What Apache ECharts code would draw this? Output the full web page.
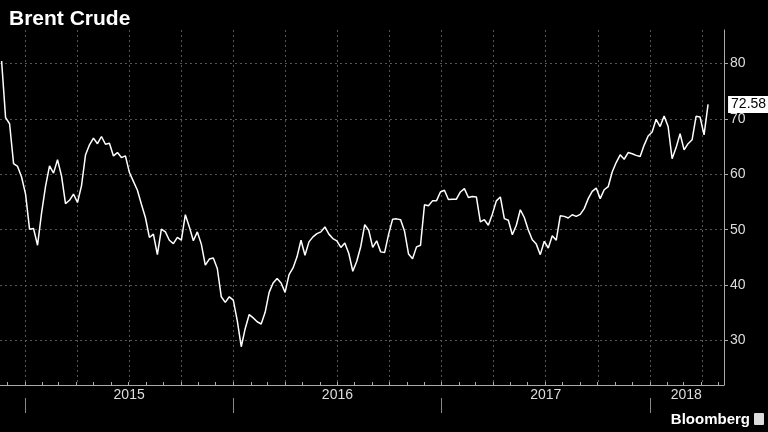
<!DOCTYPE html>
<html><head><meta charset="utf-8">
<script src="https://cdn.jsdelivr.net/npm/echarts@6/dist/echarts.min.js"></script>
<style>html,body{margin:0;padding:0;background:#000}#c{width:768px;height:432px}</style>
</head><body><div id="c"></div>
<script>
// Weekly Brent closes (USD/bbl), starting Fri 2014-11-21
const startDate = '2014-11-21';
const v2014 = [80.4,70.2,69.1,61.9,61.4,59.5];
const v2015 = [56.4,50.1,50.2,47.2,52.99, 57.8,61.5,60.2,62.6, 59.7,54.7,55.3,56.4, 54.9,57.9,63.45,65.3,
  66.5,65.5,66.8,65.4,65.6, 63.3,63.9,63.0,63.3, 60.3,58.7,57.1,54.6,52.2, 48.6,49.2,45.5,50.1,
  49.6,48.1,47.5,48.6, 48.1,52.7,50.5,48.0,49.6, 47.4,43.6,44.7,44.9, 43.0,37.9,36.9,37.9];
const v2016 = [37.3,33.6,28.9,32.2,34.7, 34.1,33.4,33.0,35.1, 38.7,40.4,41.2,40.4, 38.7,41.9,43.1,45.1,48.1,
  45.4,47.8,48.7,49.3, 49.6,50.5,49.2,48.4, 48.0,46.8,47.6,45.7,42.5, 44.3,46.97,50.9,49.9,
  46.8,48.0,46.0,45.9,49.2, 51.9,51.95,51.8,49.7, 45.6,44.75,46.9,47.2, 54.5,54.3,55.2,55.2,56.8];
const v2017 = [57.1,55.45,55.5,55.5, 56.8,57.4,55.8,56.0, 55.9,51.4,51.8,50.8,52.8, 55.2,55.9,52.0,51.7,
  49.1,50.8,53.6,52.2, 49.95,48.2,47.4,45.5,47.9, 46.7,48.9,48.1,52.5, 52.4,52.1,52.7,52.4,
  52.75,53.8,55.6,56.9,57.5, 55.6,57.2,57.75,60.4, 62.1,63.5,62.7,63.9, 63.7,63.4,63.2,65.25,66.9];
const v2018 = [67.6,69.9,68.6,70.5, 68.6,62.8,64.8,67.3, 64.4,65.5,66.2,70.45,70.3, 67.1,72.58];
const years = [2015,2016,2017,2018];
const yearLabels = ['2015','2016','2017','2018'];
const yTicks = [30,40,50,60,70,80];

const values = [].concat(v2014,v2015,v2016,v2017,v2018);
const t0 = Date.parse(startDate+'T00:00:00Z');
function decYear(ms){const d=new Date(ms);const y=d.getUTCFullYear();const a=Date.UTC(y,0,1),b=Date.UTC(y+1,0,1);return y+(ms-a)/(b-a);}
const data = values.map((v,i)=>[decYear(t0+i*7*86400000), v]);

const allYears=[2014].concat(years);
const quarters=[], months=[];
allYears.forEach(y=>{for(let m=0;m<12;m++){months.push(decYear(Date.UTC(y,m,1)));if(m%3===0)quarters.push(y+m/12);}});
const xmin = 2014.88, xmax = 2018.356;
const inR=v=>v>xmin&&v<xmax;

const font = '"Liberation Sans Narrow","Liberation Sans",Arial,sans-serif';
const chart = echarts.init(document.getElementById('c'));
chart.setOption({
  backgroundColor:'#000',
  animation:false,
  title:{text:'Brent Crude',left:4,top:4,textStyle:{color:'#fff',fontSize:21,fontWeight:'bold',fontFamily:'"Liberation Sans",Arial'}},
  graphic:[{type:'text',right:18,bottom:5,style:{text:'Bloomberg',fill:'#fff',font:'bold 15px '+font}},
           {type:'rect',right:4,bottom:7,shape:{width:10,height:12,r:1},style:{fill:'#ddd'}}],
  grid:{left:0,right:44,top:30,bottom:47},
  xAxis:[
    {type:'value',min:xmin,max:xmax,axisLabel:{show:false},
     axisTick:{show:true,length:0,customValues:quarters.filter(inR)},
     axisLine:{show:true,lineStyle:{color:'#aaa'}},splitLine:{show:true,lineStyle:{color:'#555',type:[2,3]}}},
    {type:'value',min:xmin,max:xmax,position:'bottom',axisLabel:{show:false},
     axisLine:{show:false},axisTick:{show:true,length:3,inside:true,customValues:months.filter(inR),lineStyle:{color:'#aaa'}},splitLine:{show:false}},
    {type:'value',min:xmin,max:xmax,position:'bottom',offset:13,axisLine:{show:false},
     axisTick:{show:true,length:15,customValues:years,lineStyle:{color:'#888'}},
     axisLabel:{customValues:[2015.5,2016.5,2017.5,2018.175],formatter:v=>yearLabels[Math.floor(v)-2015],
       color:'#ddd',fontSize:14,fontFamily:font,margin:-10},splitLine:{show:false}}
  ],
  yAxis:{type:'value',position:'right',min:22,max:86,
    axisLine:{show:true,lineStyle:{color:'#aaa'}},
    axisTick:{show:true,length:4,customValues:yTicks,lineStyle:{color:'#aaa'}},
    axisLabel:{customValues:yTicks,color:'#ddd',fontSize:14,fontFamily:font,margin:6},
    splitLine:{show:true,lineStyle:{color:'#555',type:[2,3]}}},
  series:[{type:'line',data:data,xAxisIndex:0,showSymbol:false,lineStyle:{color:'#fff',width:1.5},
    endLabel:{show:true,formatter:p=>p.value[1].toFixed(2),backgroundColor:'#fff',color:'#000',
      fontSize:14,fontFamily:font,padding:[2,2,1,3],distance:20}}]
});
</script></body></html>
